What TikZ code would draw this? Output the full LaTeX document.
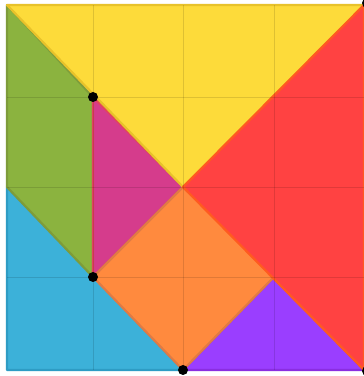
\documentclass[tikz,border=0pt]{standalone}
\usetikzlibrary{calc}
\definecolor{cyellow}{HTML}{FDDB3A}
\definecolor{cyellowd}{HTML}{E8C22A}
\definecolor{cred}{HTML}{FF4242}
\definecolor{credd}{HTML}{FF5A20}
\definecolor{cgreen}{HTML}{8BB33F}
\definecolor{cgreend}{HTML}{7E9C3A}
\definecolor{cmag}{HTML}{D53C8C}
\definecolor{cmagd}{HTML}{E2445E}
\definecolor{corange}{HTML}{FF8A3E}
\definecolor{coranged}{HTML}{E07A44}
\definecolor{cblue}{HTML}{3CB1D9}
\definecolor{cblued}{HTML}{2E9CC4}
\definecolor{cpurple}{HTML}{9A3EFF}
\definecolor{cpurpled}{HTML}{8A2EE0}
\tikzset{
  piece/.style={line width=2.2pt, line join=round},
  gridline/.style={line width=0.7pt, black, opacity=0.12},
  dot/.style={circle, fill=black, inner sep=0pt, minimum size=10pt}
}
\begin{document}
\begin{tikzpicture}[x=1pt,y=1pt]
\useasboundingbox (0,0) rectangle (364,376);
\fill[white] (0,0) rectangle (364,376);
% key points (pixel x, 376 - pixel y)
\coordinate (A) at (7,371);
\coordinate (B) at (364,371);
\coordinate (C) at (183,189);
\coordinate (D) at (364,6);
\coordinate (E) at (93,279);
\coordinate (F) at (93,99);
\coordinate (G) at (183,6);
\coordinate (H) at (274,99);
\coordinate (I) at (7,189);
\coordinate (J) at (7,6);
\coordinate (Bd) at (367,373);
\coordinate (Dd) at (367,5);
% pieces
\filldraw[piece, fill=cblue, draw=cblued] (I) -- (G) -- (J) -- cycle;
\filldraw[piece, fill=cgreen, draw=cgreend] (A) -- (E) -- (F) -- (I) -- cycle;
\filldraw[piece, fill=cmag, draw=cmagd] (E) -- (C) -- (F) -- cycle;
\filldraw[piece, fill=cpurple, draw=cpurpled] (H) -- (D) -- (G) -- cycle;
\filldraw[piece, fill=corange, draw=coranged] (C) -- (H) -- (G) -- (F) -- cycle;
\filldraw[piece, fill=cyellow, draw=cyellowd] (A) -- (B) -- (C) -- cycle;
\filldraw[piece, fill=cred, draw=credd] (B) -- (D) -- (C) -- cycle;
% faint grid
\foreach \gx in {93,183,274} \draw[gridline] (\gx,6) -- (\gx,371);
\foreach \gy in {99,189,279} \draw[gridline] (7,\gy) -- (364,\gy);
% dots
\node[dot] (d1) at (E) {};
\node[dot] (d2) at (F) {};
\node[dot] (d3) at (G) {};
\node[dot] (d4) at (Bd) {};
\node[dot] (d5) at (Dd) {};
\end{tikzpicture}
\end{document}
